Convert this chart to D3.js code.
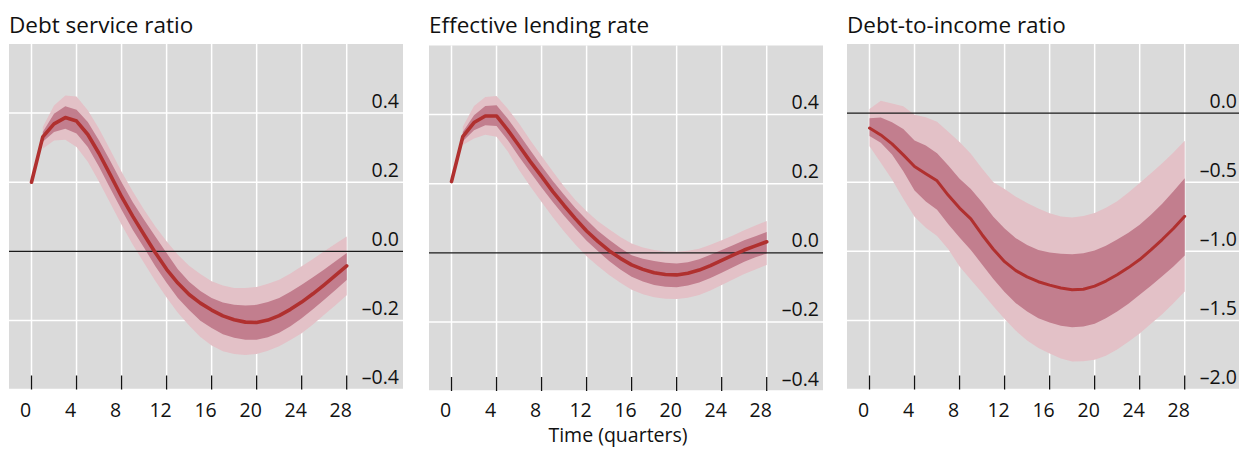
<!DOCTYPE html>
<html>
<meta charset="UTF-8">
<head>
<style>
body {
  margin: 0;
  background: white;
}
text {
  font-family: "Open Sans", sans-serif;
  fill: #111;
}
</style>
</head>
<body>
<script src="https://d3js.org/d3.v7.min.js"></script>
<script>

// data: quarters and tick values
var quarters = [0, 1, 2, 3, 4, 5, 6, 7, 8, 9, 10, 11, 12, 13, 14, 15, 16, 17, 18, 19, 20,
                21, 22, 23, 24, 25, 26, 27, 28]
var xTicks = [0, 4, 8, 12, 16, 20, 24, 28]
var rateTicks = [0.4, 0.2, 0.0, -0.2, -0.4]
var dtiTicks = [0.0, -0.5, -1.0, -1.5, -2.0]

// debt service ratio: median and the two bands
var dsrMid = [0.200, 0.331, 0.369, 0.387, 0.377, 0.338, 0.283, 0.221, 0.158, 0.101, 0.048, -0.004,
              -0.052, -0.092, -0.125, -0.150, -0.170, -0.187, -0.198, -0.205, -0.206, -0.199,
              -0.186, -0.168, -0.147, -0.123, -0.097, -0.070, -0.042]
var dsrOuterHi = [null, 0.360, 0.422, 0.451, 0.448, 0.408, 0.355, 0.293, 0.230, 0.173, 0.120, 0.072,
                  0.029, -0.010, -0.042, -0.066, -0.087, -0.099, -0.106, -0.106, -0.103, -0.094,
                  -0.082, -0.064, -0.043, -0.022, 0.000, 0.022, 0.043]
var dsrInnerHi = [null, 0.345, 0.398, 0.420, 0.410, 0.374, 0.321, 0.261, 0.200, 0.142, 0.091, 0.043,
                  -0.005, -0.052, -0.088, -0.115, -0.135, -0.148, -0.155, -0.157, -0.155, -0.147,
                  -0.135, -0.117, -0.097, -0.075, -0.053, -0.029, -0.005]
var dsrInnerLo = [null, 0.317, 0.345, 0.355, 0.341, 0.302, 0.245, 0.182, 0.120, 0.062, 0.010, -0.043,
                  -0.091, -0.135, -0.170, -0.201, -0.222, -0.240, -0.250, -0.256, -0.256, -0.249,
                  -0.236, -0.217, -0.194, -0.168, -0.140, -0.112, -0.083]
var dsrOuterLo = [null, 0.297, 0.321, 0.323, 0.302, 0.259, 0.201, 0.139, 0.077, 0.019, -0.034, -0.086,
                  -0.134, -0.178, -0.215, -0.248, -0.273, -0.289, -0.297, -0.300, -0.297, -0.288,
                  -0.275, -0.257, -0.237, -0.212, -0.184, -0.156, -0.127]

// effective lending rate
var elrMid = [0.206, 0.336, 0.377, 0.396, 0.396, 0.355, 0.310, 0.264, 0.221, 0.177, 0.137, 0.099,
              0.063, 0.033, 0.006, -0.016, -0.035, -0.048, -0.058, -0.063, -0.064, -0.059,
              -0.050, -0.037, -0.022, -0.007, 0.008, 0.020, 0.032]
var elrOuterHi = [null, 0.365, 0.425, 0.451, 0.454, 0.417, 0.374, 0.326, 0.280, 0.235, 0.192, 0.153,
                  0.120, 0.091, 0.068, 0.046, 0.027, 0.015, 0.008, 0.004, 0.003, 0.006,
                  0.012, 0.023, 0.036, 0.050, 0.065, 0.079, 0.092]
var elrInnerHi = [null, 0.350, 0.398, 0.425, 0.427, 0.388, 0.343, 0.297, 0.251, 0.208, 0.168, 0.130,
                  0.096, 0.064, 0.038, 0.014, -0.007, -0.017, -0.024, -0.029, -0.031, -0.027,
                  -0.019, -0.006, 0.008, 0.022, 0.036, 0.048, 0.060]
var elrInnerLo = [null, 0.323, 0.355, 0.369, 0.367, 0.326, 0.278, 0.233, 0.189, 0.147, 0.107, 0.070,
                  0.035, 0.005, -0.024, -0.048, -0.069, -0.083, -0.093, -0.098, -0.100, -0.095,
                  -0.086, -0.073, -0.058, -0.042, -0.026, -0.013, -0.002]
var elrOuterLo = [null, 0.312, 0.331, 0.342, 0.336, 0.293, 0.240, 0.192, 0.147, 0.103, 0.062, 0.024,
                  -0.010, -0.038, -0.064, -0.087, -0.107, -0.120, -0.129, -0.133, -0.134, -0.130,
                  -0.122, -0.109, -0.093, -0.077, -0.061, -0.048, -0.035]

// debt-to-income ratio
var dtiMid = [-0.108, -0.158, -0.223, -0.302, -0.386, -0.439, -0.490, -0.595, -0.687, -0.765, -0.880,
              -0.985, -1.075, -1.140, -1.185, -1.220, -1.245, -1.265, -1.278, -1.275, -1.252,
              -1.215, -1.170, -1.118, -1.060, -0.990, -0.915, -0.835, -0.747]
var dtiOuterHi = [0.029, 0.089, 0.070, 0.050, -0.012, -0.030, -0.062, -0.135, -0.210, -0.295, -0.400,
                  -0.500, -0.550, -0.605, -0.650, -0.690, -0.725, -0.748, -0.755, -0.745, -0.723,
                  -0.685, -0.637, -0.575, -0.505, -0.435, -0.363, -0.285, -0.200]
var dtiInnerHi = [-0.038, -0.031, -0.067, -0.115, -0.199, -0.235, -0.290, -0.380, -0.475, -0.550, -0.645,
                  -0.750, -0.835, -0.905, -0.955, -0.990, -1.008, -1.018, -1.022, -1.015, -0.995,
                  -0.960, -0.915, -0.865, -0.807, -0.735, -0.656, -0.565, -0.471]
var dtiInnerLo = [-0.165, -0.215, -0.300, -0.420, -0.560, -0.640, -0.700, -0.805, -0.900, -0.990, -1.095,
                  -1.200, -1.295, -1.375, -1.435, -1.485, -1.515, -1.538, -1.550, -1.545, -1.525,
                  -1.485, -1.435, -1.380, -1.315, -1.250, -1.180, -1.110, -1.030]
var dtiOuterLo = [-0.240, -0.360, -0.480, -0.620, -0.750, -0.830, -0.890, -0.985, -1.110, -1.205, -1.300,
                  -1.397, -1.490, -1.575, -1.645, -1.700, -1.740, -1.775, -1.797, -1.795, -1.785,
                  -1.755, -1.710, -1.655, -1.595, -1.525, -1.455, -1.375, -1.290]

// canvas
var svgWidth = 1239
    svgHeight = 449
    plotWidth = 394
    plotTop = 44
    plotBottom = 389.5
    colors = {bg: "#dadada", outer: "#e3c1c7", inner: "#c27e8e", line: "#b0302f"}

var svg = d3.select("body").append("svg")
          .attr("width", svgWidth)
          .attr("height", svgHeight)

var panels = [
  {title: "Debt service ratio", left: 9, dy: 0, domain: [-0.4, 0.6], ticks: rateTicks,
   mid: dsrMid, oHi: dsrOuterHi, iHi: dsrInnerHi, iLo: dsrInnerLo, oLo: dsrOuterLo, lw: 3.6},
  {title: "Effective lending rate", left: 429, dy: 1.5, domain: [-0.4, 0.6], ticks: rateTicks,
   mid: elrMid, oHi: elrOuterHi, iHi: elrInnerHi, iLo: elrInnerLo, oLo: elrOuterLo, lw: 3.6},
  {title: "Debt-to-income ratio", left: 847, dy: 0, domain: [-2.0, 0.5], ticks: dtiTicks,
   mid: dtiMid, oHi: dtiOuterHi, iHi: dtiInnerHi, iLo: dtiInnerLo, oLo: dtiOuterLo, lw: 3}
]

panels.forEach(drawPanel)

// shared x axis title
svg.append("text")
    .attr("x", 618)
    .attr("y", 442)
    .attr("text-anchor", "middle")
    .style("font-size", "19.5px")
    .text("Time (quarters)")


function fmt(v) {
    var s = Math.abs(v).toFixed(1)
    return (v < -1e-9 ? "\u2013" : "") + s
}

function drawPanel(p) {
    var top = plotTop + p.dy
        bottom = plotBottom + p.dy

    var x = d3.scaleLinear().domain([-2, 33]).range([p.left, p.left + plotWidth])
    var y = d3.scaleLinear().domain(p.domain).range([bottom, top])

    var g = svg.append("g")

    // title
    g.append("text")
        .attr("x", p.left)
        .attr("y", 33)
        .style("font-size", "22.5px")
        .text(p.title)

    // background
    g.append("rect")
        .attr("x", p.left)
        .attr("y", top)
        .attr("width", plotWidth)
        .attr("height", bottom - top)
        .attr("fill", colors.bg)

    // white grid
    g.selectAll(".vgrid").data(xTicks).enter().append("line")
        .attr("x1", d => x(d)).attr("x2", d => x(d))
        .attr("y1", top).attr("y2", bottom)
        .attr("stroke", "white").attr("stroke-width", 1.5)

    g.selectAll(".hgrid").data(p.ticks.filter(d => d != 0)).enter().append("line")
        .attr("x1", p.left).attr("x2", p.left + plotWidth)
        .attr("y1", d => y(d)).attr("y2", d => y(d))
        .attr("stroke", "white").attr("stroke-width", 1.5)

    // bands
    var rows = quarters.map((q, i) => ({q: q, mid: p.mid[i], oHi: p.oHi[i], iHi: p.iHi[i],
                                        iLo: p.iLo[i], oLo: p.oLo[i]}))

    var outerArea = d3.area()
        .defined(d => d.oHi != null)
        .x(d => x(d.q)).y0(d => y(d.oLo)).y1(d => y(d.oHi))
    var innerArea = d3.area()
        .defined(d => d.iHi != null)
        .x(d => x(d.q)).y0(d => y(d.iLo)).y1(d => y(d.iHi))

    g.append("path").datum(rows).attr("d", outerArea).attr("fill", colors.outer)
    g.append("path").datum(rows).attr("d", innerArea).attr("fill", colors.inner)

    // zero line
    g.append("line")
        .attr("x1", p.left).attr("x2", p.left + plotWidth)
        .attr("y1", y(0)).attr("y2", y(0))
        .attr("stroke", "#1a1a1a").attr("stroke-width", 1.3)

    // median response
    var line = d3.line().x(d => x(d.q)).y(d => y(d.mid))
    g.append("path").datum(rows)
        .attr("d", line)
        .attr("fill", "none")
        .attr("stroke", colors.line)
        .attr("stroke-width", p.lw)
        .attr("stroke-linejoin", "round")
        .attr("stroke-linecap", "round")

    // small ticks at the bottom
    g.selectAll(".xtick").data(xTicks).enter().append("line")
        .attr("x1", d => x(d)).attr("x2", d => x(d))
        .attr("y1", bottom - 14).attr("y2", bottom)
        .attr("stroke", "#111").attr("stroke-width", 1.3)

    g.selectAll(".xlab").data(xTicks).enter().append("text")
        .attr("x", d => x(d) - 6)
        .attr("y", 417)
        .attr("text-anchor", "middle")
        .style("font-size", "19.5px")
        .text(d => d)

    // y labels sit above their gridline on the right
    g.selectAll(".ylab").data(p.ticks).enter().append("text")
        .attr("x", p.left + plotWidth - 4)
        .attr("y", d => y(d) - 5.5)
        .attr("text-anchor", "end")
        .style("font-size", "19.5px")
        .text(d => fmt(d))
}

</script>
</body>
</html>
